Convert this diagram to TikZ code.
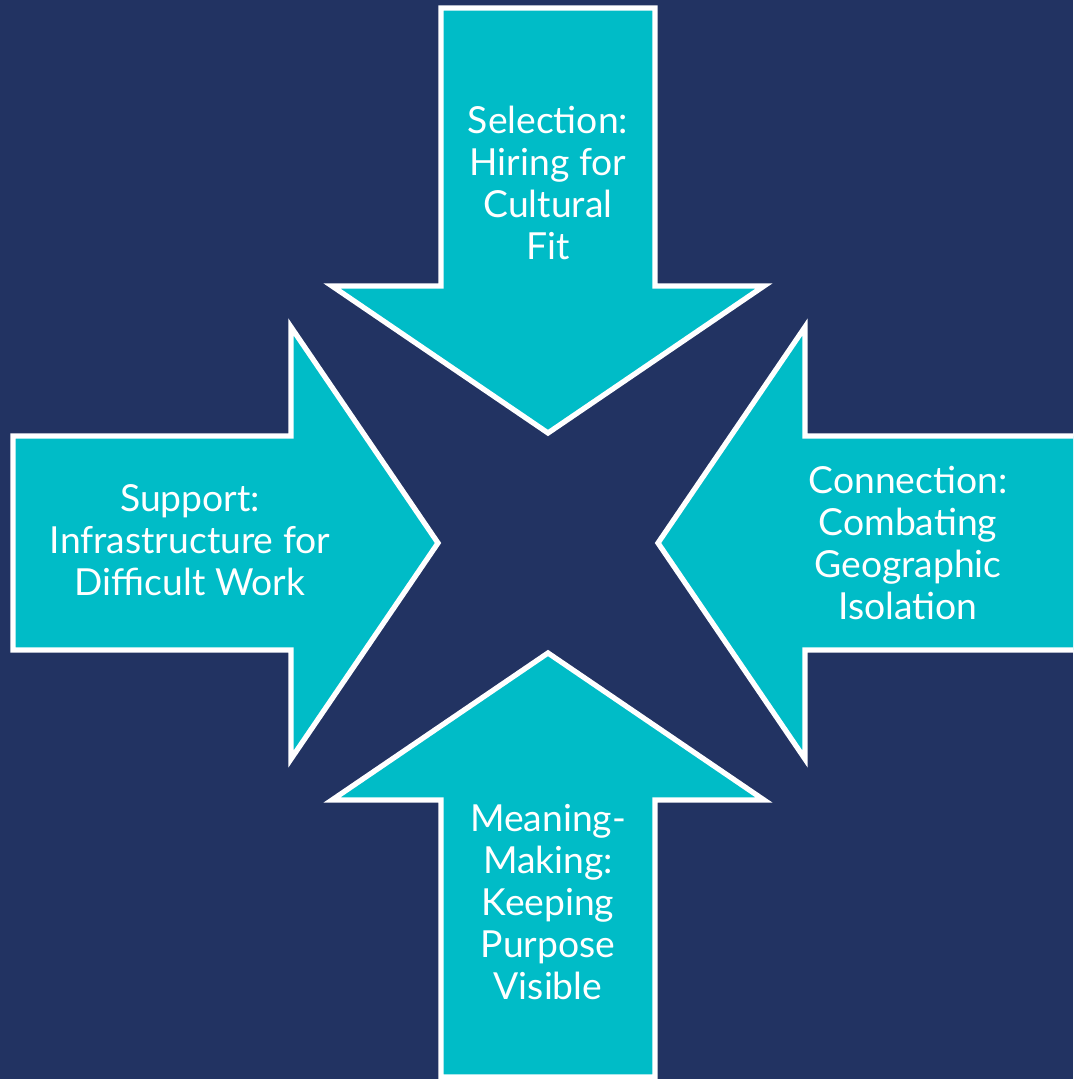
\documentclass[tikz,border=0pt]{standalone}
\usepackage{fontspec}
\setmainfont{Lato}
\usepackage{tikz}
\usetikzlibrary{positioning}
\definecolor{dfnavy}{RGB}{34,51,98}
\definecolor{dfteal}{RGB}{0,188,199}
\tikzstyle{bigarrow} = [draw=white, line width=1.5pt, fill=dfteal, line join=miter]
\tikzstyle{arrowtext} = [text=white, align=center, inner sep=0pt, font=\fontsize{10.6}{12}\selectfont]

\begin{document}
\begin{tikzpicture}
    % Background
    \fill[dfnavy] (0,0) rectangle (10.73,10.79);
    \useasboundingbox (0,0) rectangle (10.73,10.79);
    \clip (0,0) rectangle (10.73,10.79);

    % Top arrow
    \draw[bigarrow] (4.41,10.71) -- (6.55,10.71) -- (6.55,7.93) -- (7.64,7.93)
        -- (5.48,6.46) -- (3.32,7.93) -- (4.41,7.93) -- cycle;
    \node[arrowtext] (selection) at (5.48,8.96) {Selection:\\Hiring for\\Cultural\\Fit};

    % Left arrow
    \draw[bigarrow] (0.13,6.43) -- (2.91,6.43) -- (2.91,7.52) -- (4.38,5.36)
        -- (2.91,3.20) -- (2.91,4.29) -- (0.13,4.29) -- cycle;
    \node[arrowtext] (support) at (1.90,5.39) {Support:\\Infrastructure for\\Difficult Work};

    % Right arrow
    \draw[bigarrow] (10.83,6.43) -- (8.05,6.43) -- (8.05,7.52) -- (6.58,5.36)
        -- (8.05,3.20) -- (8.05,4.29) -- (10.83,4.29) -- cycle;
    \node[arrowtext] (connection) at (9.08,5.36) {Connection:\\Combating\\Geographic\\Isolation};

    % Bottom arrow
    \draw[bigarrow] (4.41,0.02) -- (6.55,0.02) -- (6.55,2.79) -- (7.64,2.79)
        -- (5.48,4.26) -- (3.32,2.79) -- (4.41,2.79) -- cycle;
    \node[arrowtext] (meaning) at (5.48,1.77) {Meaning-\\Making:\\Keeping\\Purpose\\Visible};
\end{tikzpicture}
\end{document}
